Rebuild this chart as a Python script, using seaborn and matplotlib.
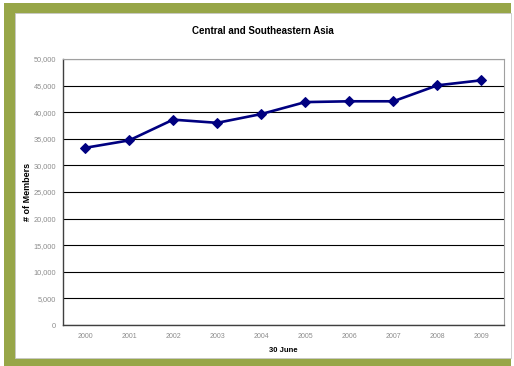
import matplotlib
matplotlib.use("Agg")
import matplotlib.pyplot as plt
from matplotlib.patches import Rectangle
import seaborn as sns
import pandas as pd

years = ["2000", "2001", "2002", "2003", "2004", "2005", "2006", "2007", "2008", "2009"]
members = [33300, 34700, 38600, 38000, 39650, 41900, 42050, 42050, 45050, 46000]
y_ticks = [0, 5000, 10000, 15000, 20000, 25000, 30000, 35000, 40000, 45000, 50000]

sns.set_theme(style="white")
plt.rcParams['font.family'] = ['Liberation Sans', 'DejaVu Sans']

W, H = 514, 366
fig = plt.figure(figsize=(W / 100, H / 100), dpi=100)
fig.patch.set_facecolor("white")

def fr(x0, y0, x1, y1, **kw):
    # pixel coords (top-left origin) -> figure rectangle
    return Rectangle((x0 / W, 1 - y1 / H), (x1 - x0) / W, (y1 - y0) / H,
                     transform=fig.transFigure, **kw)

green = "#97A648"
fig.patches.append(fr(4, 3, 511, 366, facecolor=green, edgecolor="none", zorder=-2))
fig.patches.append(fr(15, 13, 511, 358, facecolor="white", edgecolor="#C8C8C8", linewidth=0.6, zorder=-1))

ax = fig.add_axes([63 / W, 1 - 325 / H, (503.5 - 63) / W, (325 - 59) / H])
ax.set_zorder(2)
ax.set_facecolor("white")

df = pd.DataFrame({"pos": list(range(len(years))), "members": members})
sns.lineplot(data=df, x="pos", y="members", ax=ax, color="#000080", linewidth=1.9,
             marker="D", markersize=5, markeredgecolor="#000080", zorder=5)

ax.set_xlim(-0.5, len(years) - 0.5)
ax.set_ylim(0, 50000)
ax.set_yticks(y_ticks)
ax.set_yticklabels([f"{v:,}" for v in y_ticks])
ax.set_xticks(range(len(years)))
ax.set_xticklabels(years)
ax.set_xticks([i - 0.5 for i in range(len(years) + 1)], minor=True)
ax.tick_params(axis="x", which="major", length=0, labelsize=5, labelcolor="#8C8C8C", pad=6)
ax.tick_params(axis="x", which="minor", length=3, width=0.8, color="#404040", direction="out")
ax.tick_params(axis="y", length=3, width=0.8, color="#404040", direction="out",
               labelsize=5.3, labelcolor="#8C8C8C", pad=2)

ax.grid(axis="y", color="#000000", linewidth=0.8)
ax.set_axisbelow(True)
for s in ["left", "bottom"]:
    ax.spines[s].set_color("#404040")
    ax.spines[s].set_linewidth(1.0)
for s in ["top", "right"]:
    ax.spines[s].set_color("#A0A0A0")
    ax.spines[s].set_linewidth(0.8)

ax.set_xlabel("30 June", fontsize=5.5, fontweight="bold", color="black", labelpad=5)
ax.set_ylabel("# of Members", fontsize=6.5, fontweight="bold", color="black")
ax.yaxis.set_label_coords((28 - 63) / 440.5, 0.5)
ax.yaxis.label.set_va("center")
fig.text(263 / W, 1 - 31.5 / H, "Central and Southeastern Asia", ha="center", va="center",
         fontsize=7, fontweight="bold", color="black")

fig.savefig("out.png", dpi=100)
